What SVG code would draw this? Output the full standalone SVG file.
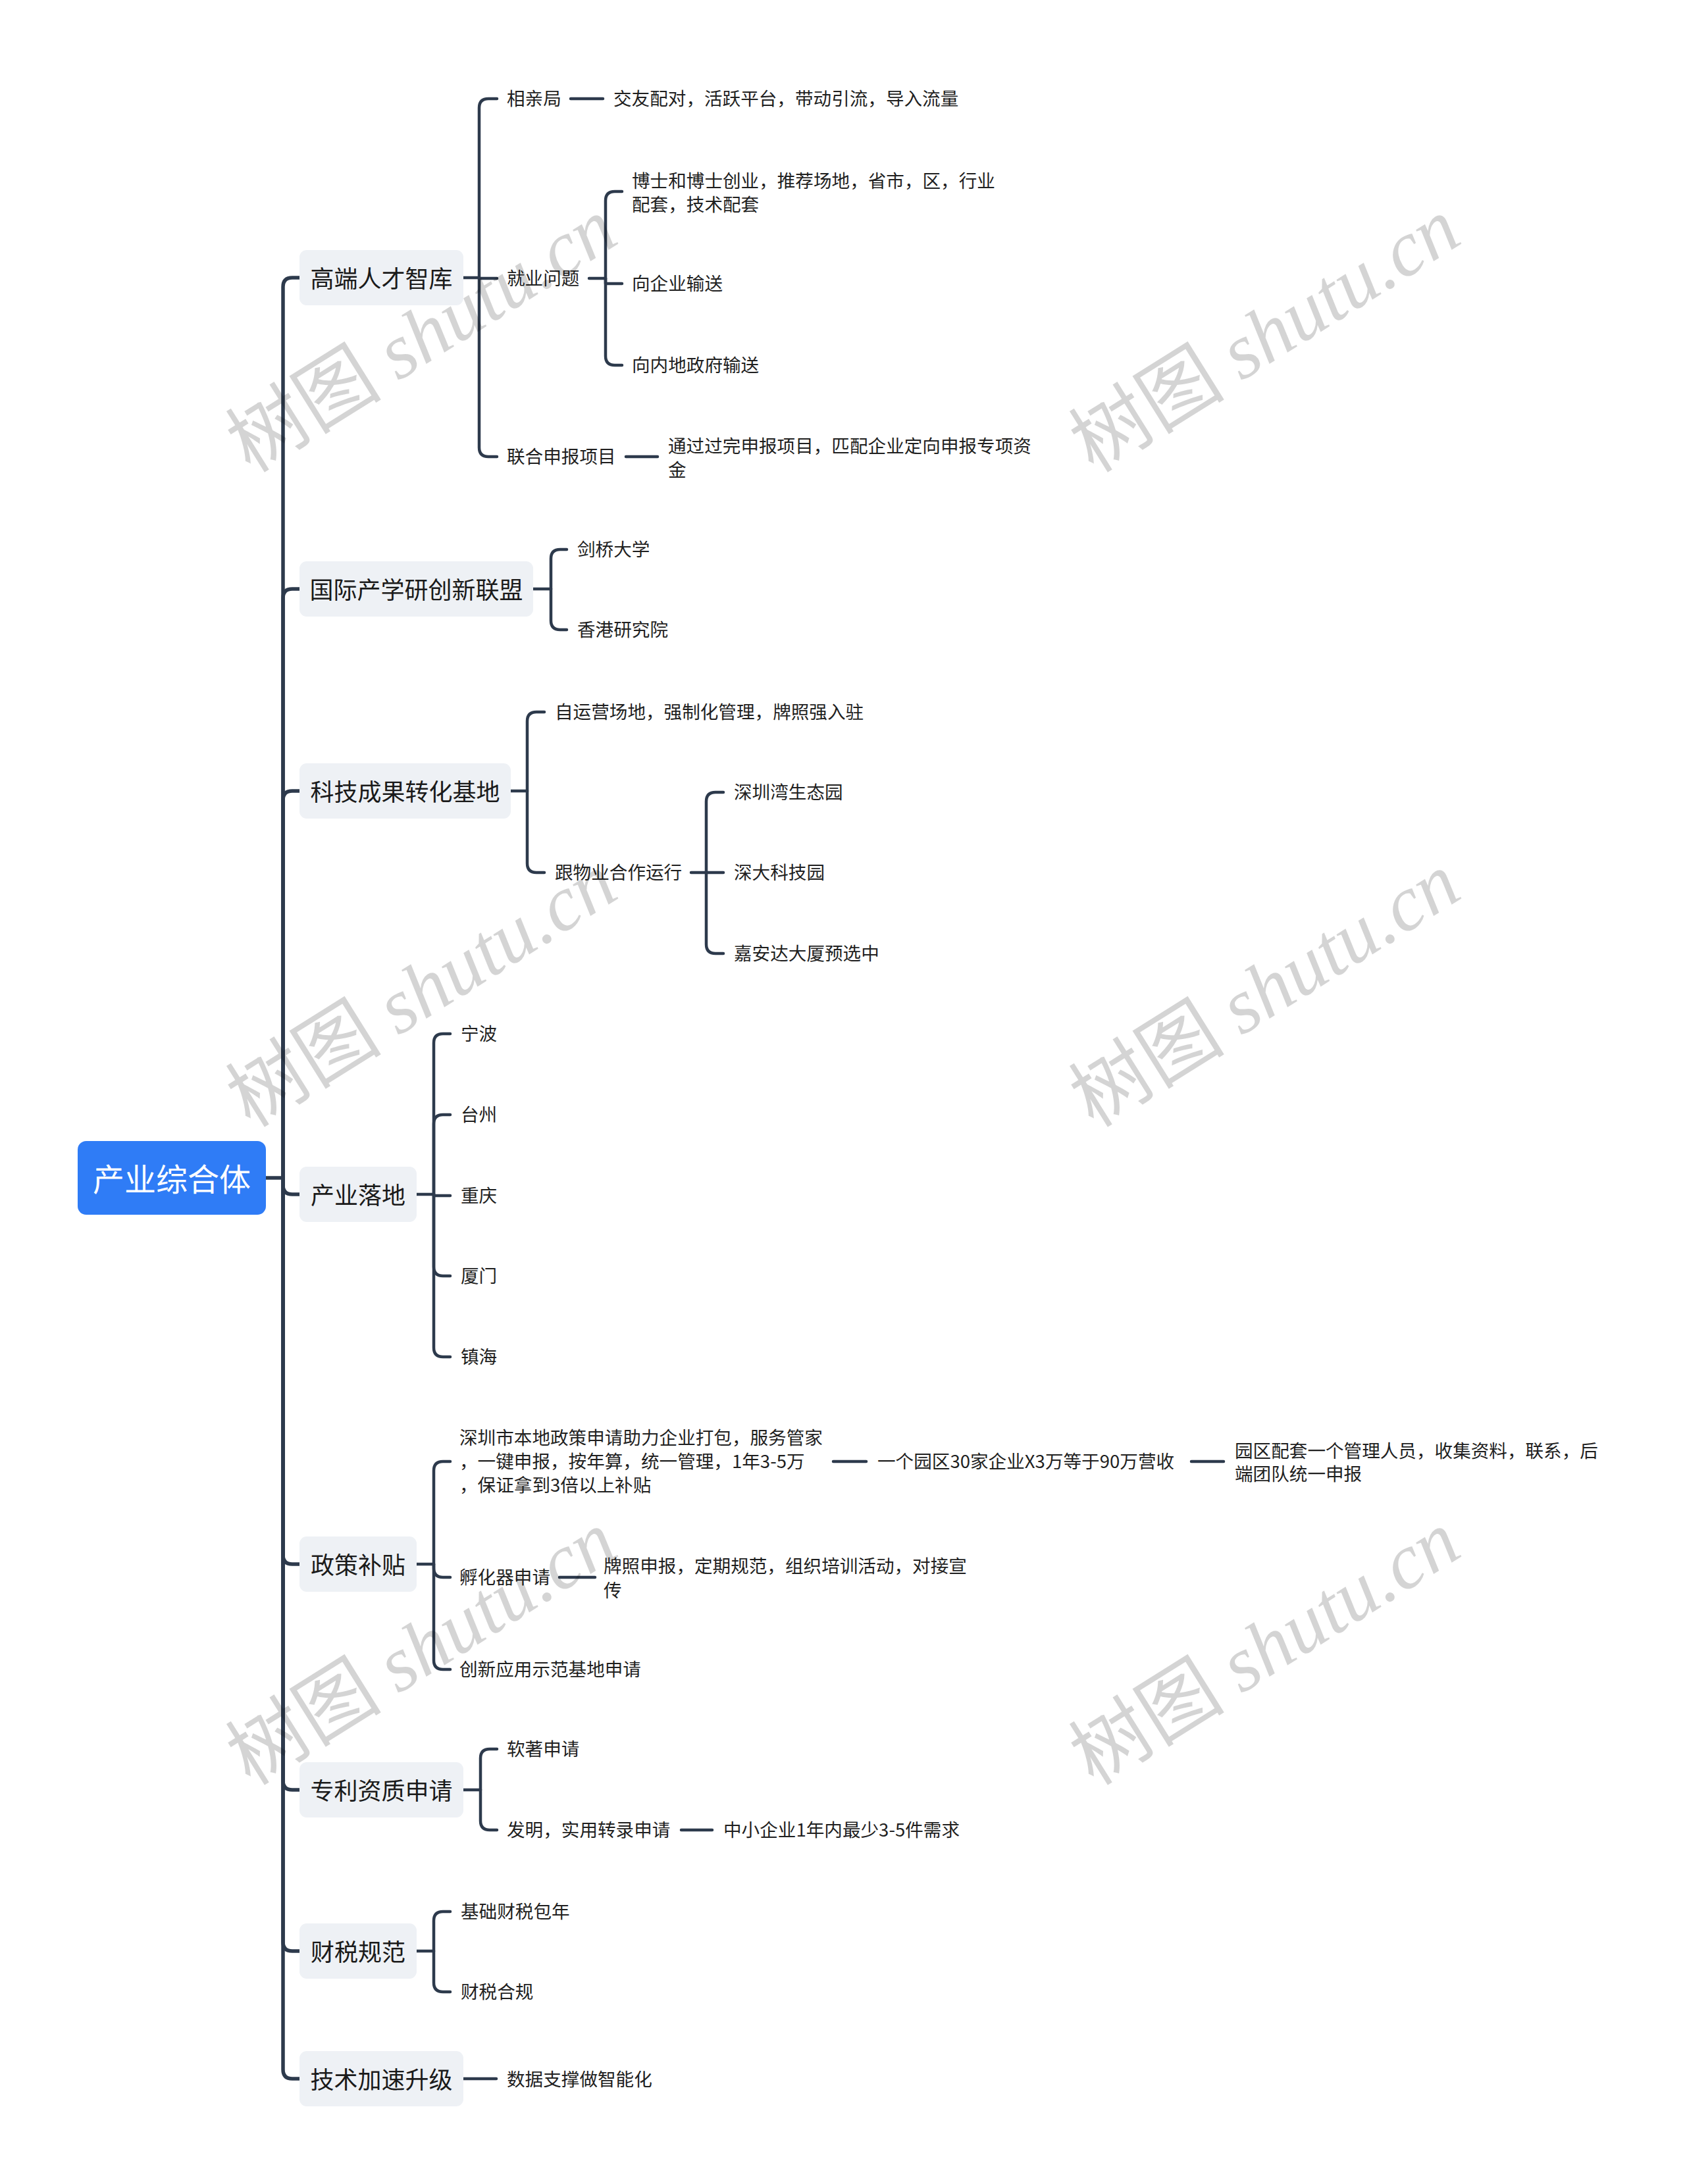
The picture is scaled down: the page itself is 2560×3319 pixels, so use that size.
<svg xmlns="http://www.w3.org/2000/svg" width="2560" height="3319" viewBox="0 0 2560 3319">
<style>
.bg{fill:#ffffff}
.root{fill:#2F7CF6}
.rt{font-family:"Noto Sans CJK SC","Noto Sans",sans-serif;font-size:48px;fill:#ffffff;text-anchor:middle;dominant-baseline:central}
.b1{fill:#EEF1F5}
.t1{font-family:"Noto Sans CJK SC","Noto Sans",sans-serif;font-size:36px;fill:#1a1a1a;text-anchor:middle;dominant-baseline:central}
.t{font-family:"Noto Sans CJK SC","Noto Sans",sans-serif;font-size:27.6px;fill:#1f1f1f;dominant-baseline:central}
.c{fill:none;stroke:#2D3A4C;stroke-width:4.5;stroke-linecap:round;stroke-linejoin:round}
.trunk{stroke-width:5.5}
.wm{font-size:119px;fill:#000000;fill-opacity:0.17;text-anchor:middle}
.wmc{font-family:"Noto Sans CJK SC",sans-serif}
.wml{font-family:"Liberation Serif",serif;font-style:italic}
</style>
<rect class="bg" x="0" y="0" width="2560" height="3319"/>

<g id="connectors">
  <path class="c trunk" d="M404 1790 H430"/>
  <path class="c trunk" d="M430 1790 V436 Q430 422 444 422 H455"/>
  <path class="c trunk" d="M430 1790 V909 Q430 895 444 895 H455"/>
  <path class="c trunk" d="M430 1790 V1216 Q430 1202 444 1202 H455"/>
  <path class="c trunk" d="M430 1790 V1801 Q430 1815 444 1815 H455"/>
  <path class="c trunk" d="M430 1790 V2363 Q430 2377 444 2377 H455"/>
  <path class="c trunk" d="M430 1790 V2706 Q430 2720 444 2720 H455"/>
  <path class="c trunk" d="M430 1790 V2951 Q430 2965 444 2965 H455"/>
  <path class="c trunk" d="M430 1790 V3145 Q430 3159 444 3159 H455"/>
  <path class="c" d="M704 422 H728"/>
  <path class="c" d="M728 422 V164 Q728 150 742 150 H755"/>
  <path class="c" d="M728 422 V423 H755"/>
  <path class="c" d="M728 422 V680 Q728 694 742 694 H755"/>
  <path class="c" d="M867 150 H916"/>
  <path class="c" d="M895 423 H920"/>
  <path class="c" d="M920 423 V305 Q920 291 934 291 H945"/>
  <path class="c" d="M920 423 V431 H945"/>
  <path class="c" d="M920 423 V541 Q920 555 934 555 H945"/>
  <path class="c" d="M951 694 H999"/>
  <path class="c" d="M810 895 H837"/>
  <path class="c" d="M837 895 V849 Q837 835 851 835 H861"/>
  <path class="c" d="M837 895 V943 Q837 957 851 957 H861"/>
  <path class="c" d="M776 1202 H801"/>
  <path class="c" d="M801 1202 V1096 Q801 1082 815 1082 H827"/>
  <path class="c" d="M801 1202 V1312 Q801 1326 815 1326 H827"/>
  <path class="c" d="M1050 1326 H1073"/>
  <path class="c" d="M1073 1326 V1218 Q1073 1204 1087 1204 H1099"/>
  <path class="c" d="M1073 1326 H1099"/>
  <path class="c" d="M1073 1326 V1435 Q1073 1449 1087 1449 H1099"/>
  <path class="c" d="M633 1815 H659"/>
  <path class="c" d="M659 1815 V1585 Q659 1571 673 1571 H684"/>
  <path class="c" d="M659 1815 V1708 Q659 1694 673 1694 H684"/>
  <path class="c" d="M659 1815 V1817 H684"/>
  <path class="c" d="M659 1815 V1925 Q659 1939 673 1939 H684"/>
  <path class="c" d="M659 1815 V2048 Q659 2062 673 2062 H684"/>
  <path class="c" d="M633 2377 H659"/>
  <path class="c" d="M659 2377 V2235 Q659 2221 673 2221 H684"/>
  <path class="c" d="M659 2377 V2383 Q659 2397 673 2397 H684"/>
  <path class="c" d="M659 2377 V2523 Q659 2537 673 2537 H684"/>
  <path class="c" d="M1266 2221 H1316"/>
  <path class="c" d="M1810 2221 H1859"/>
  <path class="c" d="M850 2397 H904"/>
  <path class="c" d="M704 2720 H730"/>
  <path class="c" d="M730 2720 V2672 Q730 2658 744 2658 H755"/>
  <path class="c" d="M730 2720 V2767 Q730 2781 744 2781 H755"/>
  <path class="c" d="M1035 2781 H1082"/>
  <path class="c" d="M633 2965 H659"/>
  <path class="c" d="M659 2965 V2919 Q659 2905 673 2905 H684"/>
  <path class="c" d="M659 2965 V3013 Q659 3027 673 3027 H684"/>
  <path class="c" d="M704 3159 H754"/>
</g>

<g id="root">
  <rect class="root" x="118" y="1734" width="286" height="112" rx="13"/>
  <text class="rt" x="261" y="1789">产业综合体</text>
</g>

<g id="n-gaoduan">
  <rect class="b1" x="455" y="380" width="249" height="84" rx="11"/>
  <text class="t1" x="579.5" y="421">高端人才智库</text>
</g>
<g id="n-guoji">
  <rect class="b1" x="455" y="853" width="355" height="84" rx="11"/>
  <text class="t1" x="632.5" y="894">国际产学研创新联盟</text>
</g>
<g id="n-keji">
  <rect class="b1" x="455" y="1160" width="321" height="84" rx="11"/>
  <text class="t1" x="615.5" y="1201">科技成果转化基地</text>
</g>
<g id="n-chanye">
  <rect class="b1" x="455" y="1773" width="178" height="84" rx="11"/>
  <text class="t1" x="544" y="1814">产业落地</text>
</g>
<g id="n-zhengce">
  <rect class="b1" x="455" y="2335" width="178" height="84" rx="11"/>
  <text class="t1" x="544" y="2376">政策补贴</text>
</g>
<g id="n-zhuanli">
  <rect class="b1" x="455" y="2678" width="249" height="84" rx="11"/>
  <text class="t1" x="579.5" y="2719">专利资质申请</text>
</g>
<g id="n-caishui">
  <rect class="b1" x="455" y="2923" width="178" height="84" rx="11"/>
  <text class="t1" x="544" y="2964">财税规范</text>
</g>
<g id="n-jishu">
  <rect class="b1" x="455" y="3117" width="249" height="84" rx="11"/>
  <text class="t1" x="579.5" y="3158">技术加速升级</text>
</g>

<g id="leaves" transform="translate(0,-2)">
<g id="n-xiangqin"><text class="t" x="770" y="150">相亲局</text></g>
<g id="n-jiaoyou"><text class="t" x="932" y="150">交友配对，活跃平台，带动引流，导入流量</text></g>
<g id="n-jiuye"><text class="t" x="770" y="423">就业问题</text></g>
<g id="n-boshi"><text class="t"><tspan x="960" y="275">博士和博士创业，推荐场地，省市，区，行业</tspan><tspan x="960" y="311">配套，技术配套</tspan></text></g>
<g id="n-qiye"><text class="t" x="960" y="431">向企业输送</text></g>
<g id="n-neidi"><text class="t" x="960" y="555">向内地政府输送</text></g>
<g id="n-lianhe"><text class="t" x="770" y="694">联合申报项目</text></g>
<g id="n-tongguo"><text class="t"><tspan x="1015" y="678">通过过完申报项目，匹配企业定向申报专项资</tspan><tspan x="1015" y="714">金</tspan></text></g>
<g id="n-jianqiao"><text class="t" x="877" y="835">剑桥大学</text></g>
<g id="n-xianggang"><text class="t" x="877" y="957">香港研究院</text></g>
<g id="n-ziyunying"><text class="t" x="843" y="1082">自运营场地，强制化管理，牌照强入驻</text></g>
<g id="n-wuye"><text class="t" x="843" y="1326">跟物业合作运行</text></g>
<g id="n-shenzhenwan"><text class="t" x="1115" y="1204">深圳湾生态园</text></g>
<g id="n-shenda"><text class="t" x="1115" y="1326">深大科技园</text></g>
<g id="n-jiaanda"><text class="t" x="1115" y="1449">嘉安达大厦预选中</text></g>
<g id="n-ningbo"><text class="t" x="700" y="1571">宁波</text></g>
<g id="n-taizhou"><text class="t" x="700" y="1694">台州</text></g>
<g id="n-chongqing"><text class="t" x="700" y="1817">重庆</text></g>
<g id="n-xiamen"><text class="t" x="700" y="1939">厦门</text></g>
<g id="n-zhenhai"><text class="t" x="700" y="2062">镇海</text></g>
<g id="n-shenzhenshi"><text class="t"><tspan x="698" y="2185">深圳市本地政策申请助力企业打包，服务管家</tspan><tspan x="698" y="2221">，一键申报，按年算，统一管理，1年3-5万</tspan><tspan x="698" y="2257">，保证拿到3倍以上补贴</tspan></text></g>
<g id="n-yuanqu30"><text class="t" x="1333" y="2221">一个园区30家企业X3万等于90万营收</text></g>
<g id="n-peitao"><text class="t"><tspan x="1876" y="2205">园区配套一个管理人员，收集资料，联系，后</tspan><tspan x="1876" y="2240">端团队统一申报</tspan></text></g>
<g id="n-fuhuaqi"><text class="t" x="698" y="2397">孵化器申请</text></g>
<g id="n-paizhao"><text class="t"><tspan x="917" y="2380">牌照申报，定期规范，组织培训活动，对接宣</tspan><tspan x="917" y="2417">传</tspan></text></g>
<g id="n-chuangxin"><text class="t" x="698" y="2537">创新应用示范基地申请</text></g>
<g id="n-ruanzhu"><text class="t" x="770" y="2658">软著申请</text></g>
<g id="n-faming"><text class="t" x="770" y="2781">发明，实用转录申请</text></g>
<g id="n-zhongxiao"><text class="t" x="1099" y="2781">中小企业1年内最少3-5件需求</text></g>
<g id="n-jichu"><text class="t" x="700" y="2905">基础财税包年</text></g>
<g id="n-hegui"><text class="t" x="700" y="3027">财税合规</text></g>
<g id="n-shuju"><text class="t" x="770" y="3160">数据支撑做智能化</text></g>
</g>

<g id="watermarks">
  <text class="wm" transform="translate(641 510) rotate(-32)" x="0" y="40"><tspan class="wmc">树图 </tspan><tspan class="wml">shutu.cn</tspan></text>
  <text class="wm" transform="translate(1922 510) rotate(-32)" x="0" y="40"><tspan class="wmc">树图 </tspan><tspan class="wml">shutu.cn</tspan></text>
  <text class="wm" transform="translate(641 1505) rotate(-32)" x="0" y="40"><tspan class="wmc">树图 </tspan><tspan class="wml">shutu.cn</tspan></text>
  <text class="wm" transform="translate(1922 1505) rotate(-32)" x="0" y="40"><tspan class="wmc">树图 </tspan><tspan class="wml">shutu.cn</tspan></text>
  <text class="wm" transform="translate(641 2505) rotate(-32)" x="0" y="40"><tspan class="wmc">树图 </tspan><tspan class="wml">shutu.cn</tspan></text>
  <text class="wm" transform="translate(1922 2505) rotate(-32)" x="0" y="40"><tspan class="wmc">树图 </tspan><tspan class="wml">shutu.cn</tspan></text>
</g>
</svg>
